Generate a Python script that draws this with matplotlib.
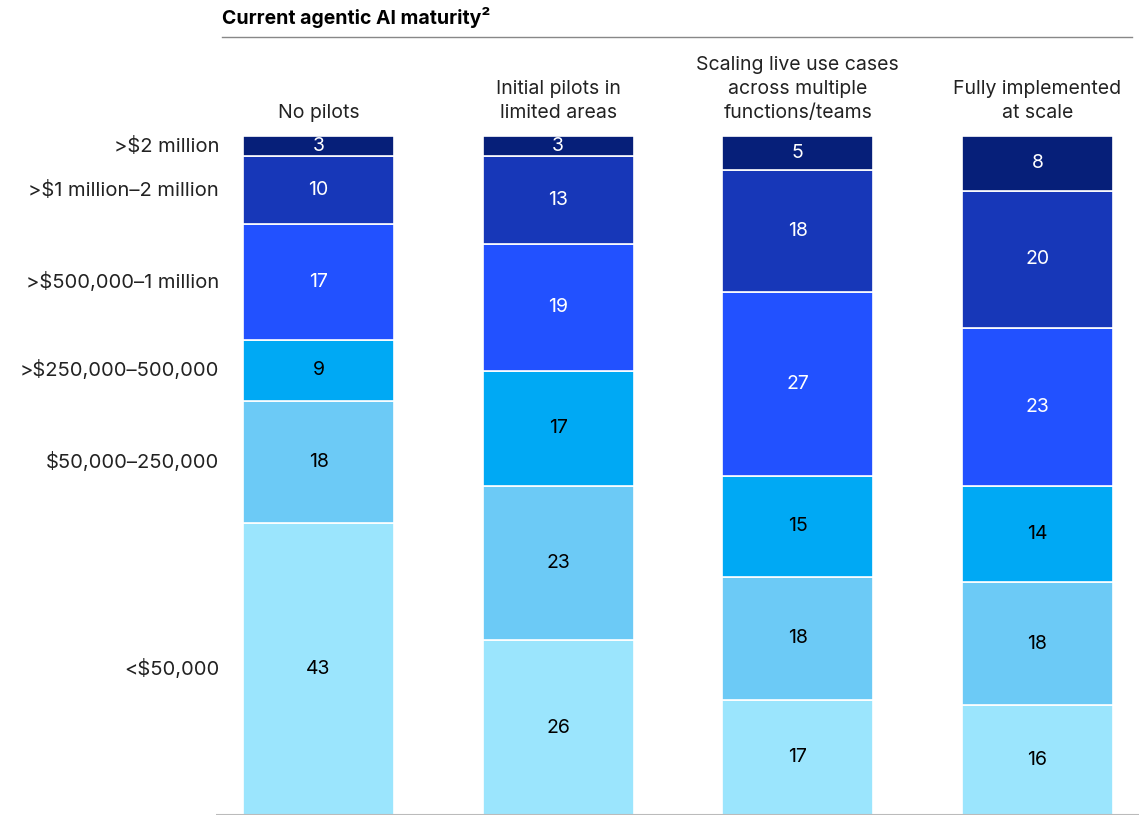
import matplotlib.pyplot as plt
import numpy as np

plt.rcParams['font.family'] = ['Inter', 'DejaVu Sans']

# spend bands, bottom to top
bands = ["<$50,000", "$50,000\u2013250,000", ">$250,000\u2013500,000",
         ">$500,000\u20131 million", ">$1 million\u20132 million", ">$2 million"]
stages = ["No pilots", "Initial pilots in\nlimited areas",
          "Scaling live use cases\nacross multiple\nfunctions/teams",
          "Fully implemented\nat scale"]

no_pilots = [43, 18, 9, 17, 10, 3]
initial_pilots = [26, 23, 17, 19, 13, 3]
scaling = [17, 18, 15, 27, 18, 5]
fully = [16, 18, 14, 23, 20, 8]

colors = ["#9be5fd", "#6ccaf6", "#00a9f4", "#2251ff", "#1737b8", "#061f79"]
text_colors = ["black", "black", "black", "white", "white", "white"]

W, H = 1139, 816
fig = plt.figure(figsize=(W / 100, H / 100), dpi=100)
ax = fig.add_axes([216 / W, 1 / H, (W - 216) / W, 679 / H])

data = np.array([no_pilots, initial_pilots, scaling, fully], dtype=float)
x = np.arange(len(stages))
width = 0.63

for i, row in enumerate(data):
    shares = row / row.sum() * 100
    bottom = 0
    for j, (val, share) in enumerate(zip(row, shares)):
        ax.bar(x[i], share, width, bottom=bottom, color=colors[j],
               edgecolor="white", linewidth=1.2)
        ax.text(x[i], bottom + share / 2, f"{int(val)}", ha="center", va="center",
                fontsize=14, color=text_colors[j])
        bottom += share

# band labels on the left, lined up with the first bar
first = data[0] / data[0].sum() * 100
mids = np.cumsum(first) - first / 2
for label, m in zip(bands, mids):
    ax.text(-0.415, m, label, ha="right", va="center", fontsize=14.5, color="#222222")

for i, s in enumerate(stages):
    ax.text(x[i], 102.0, s, ha="center", va="bottom", fontsize=14,
            color="#222222", linespacing=1.45)

ax.set_xlim(-0.428, 3.424)
ax.set_ylim(0, 100)
ax.axis("off")
ax.axhline(0, color="#bbbbbb", linewidth=1.5, xmin=0, xmax=1)

fig.text(222 / W, 1 - 18 / H, "Current agentic AI maturity\u00b2",
         ha="left", va="center", fontsize=14, fontweight="bold", color="black")
fig.add_artist(plt.Line2D([222 / W, 1132 / W], [1 - 37 / H, 1 - 37 / H],
                          color="#888888", linewidth=1))

fig.savefig("out.png", dpi=100)
